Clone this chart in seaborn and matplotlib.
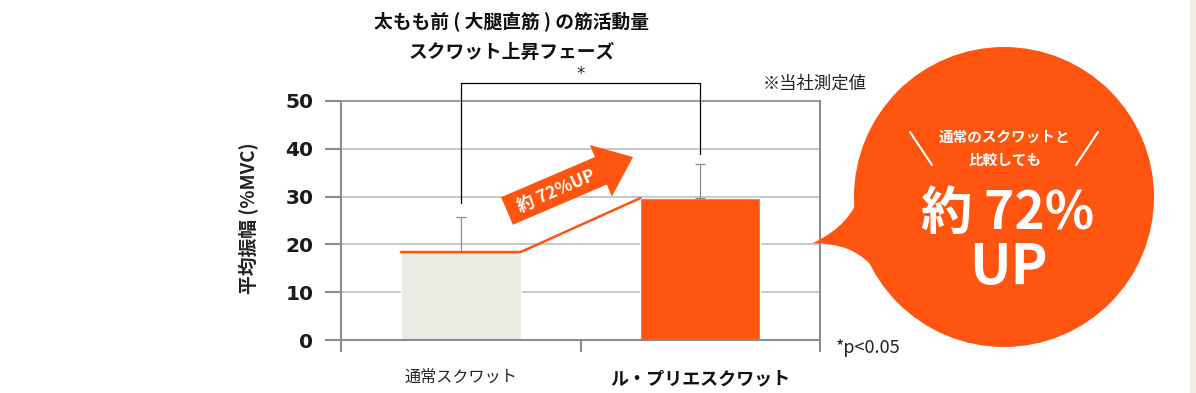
import numpy as np
import pandas as pd
import seaborn as sns
import matplotlib
matplotlib.use('Agg')
import matplotlib.pyplot as plt
from matplotlib.patches import Polygon, Circle, PathPatch, Rectangle
from matplotlib.path import Path
from matplotlib.transforms import Affine2D

# ---------------- data ----------------
categories = ['通常スクワット', 'ル・プリエスクワット']
mean_values = [18.4, 29.7]          # 平均振幅 (%MVC)
sd_values = [7.3, 7.1]              # upper error bar
bracket_legs = [28.7, 39.0]         # bottom of significance bracket legs
bracket_top = 53.8
yticks = [0, 10, 20, 30, 40, 50]
title_lines = ['太もも前 ( 大腿直筋 ) の筋活動量', 'スクワット上昇フェーズ']

ORANGE = '#FF5510'
GRAY_BAR = '#EBEAE3'
AX_GRAY = '#8c8c8c'

W, H = 1196, 393
sns.set_theme(style='white')
plt.rcParams['font.family'] = ['Noto Sans CJK JP', 'DejaVu Sans']

fig = plt.figure(figsize=(W / 100, H / 100), dpi=100)
fig.patch.set_facecolor('white')
ax = fig.add_axes([341 / W, 1 - 340 / H, 479 / W, 239 / H])

df = pd.DataFrame({'cat': categories, 'val': mean_values})
sns.barplot(data=df, x='cat', y='val', hue='cat', palette=[GRAY_BAR, ORANGE],
            width=0.5, saturation=1, errorbar=None, legend=False, ax=ax, zorder=2)

# error bars (upper only)
ax.errorbar([0, 1], mean_values, yerr=[[0, 0], sd_values], fmt='none',
            ecolor='#8a8a8a', elinewidth=0.9, capsize=3.5, capthick=0.9, zorder=3)

ax.set_ylim(0, 50)
ax.set_xlim(-0.5, 1.5)
ax.set_yticks(yticks)
ax.set_xticks([0, 1])
ax.set_xticklabels(categories)
ax.set_xticks([-0.5, 0.5, 1.5], minor=True)
ax.set_xlabel('')
ax.set_ylabel('')

for s in ['left', 'right', 'bottom', 'top']:
    ax.spines[s].set_visible(True)
    ax.spines[s].set_color(AX_GRAY)
    ax.spines[s].set_linewidth(1.5)
ax.spines['top'].set_linewidth(1.2)

ax.yaxis.grid(True, color='#b8b8b8', lw=1.1)
ax.set_axisbelow(True)
ax.tick_params(axis='y', left=True, length=11.5, width=1.5, color=AX_GRAY, pad=8.5)
ax.tick_params(axis='x', which='major', length=0, pad=21)
ax.tick_params(axis='x', which='minor', bottom=True, length=8.6, width=1.5, color=AX_GRAY)

for lab in ax.get_yticklabels():
    lab.set_fontfamily('DejaVu Sans')
    lab.set_fontweight('bold')
    lab.set_fontsize(14.5)
    lab.set_color('#1a1a1a')
xl = ax.get_xticklabels()
xl[0].set_fontsize(11.6)
xl[0].set_color('#222222')
xl[1].set_fontsize(13)
xl[1].set_fontweight('bold')
xl[1].set_color('#111111')

# orange connecting line
ax.plot([-0.25, 0.25, 0.75], [mean_values[0], mean_values[0], mean_values[1]],
        color=ORANGE, lw=1.8, zorder=4, solid_joinstyle='miter')

# significance bracket
ax.plot([0, 0, 1, 1], [bracket_legs[0], bracket_top, bracket_top, bracket_legs[1]],
        color='black', lw=0.9, clip_on=False, zorder=5)
ax.text(0.5, bracket_top + 1.9, '*', ha='center', va='center', fontsize=12,
        family='DejaVu Sans', clip_on=False)

# pixel transform (y down)
pix = Affine2D().scale(1 / 100, -1 / 100).translate(0, H / 100) + fig.dpi_scale_trans

# title
fig.text(512, 22, title_lines[0], transform=pix, ha='center', va='center',
         fontsize=13.5, fontweight='bold', color='#111111')
fig.text(512, 52, title_lines[1], transform=pix, ha='center', va='center',
         fontsize=13.5, fontweight='bold', color='#111111')
fig.text(763, 84, '※当社測定値', transform=pix, ha='left', va='center',
         fontsize=12.5, color='#222222')
fig.text(836, 348, '*p<0.05', transform=pix, ha='left', va='center',
         fontsize=13, color='#222222')
fig.text(249, 218, '平均振幅 (%MVC)', transform=pix, ha='center', va='center',
         rotation=90, fontsize=13.5, fontweight='bold', color='#222222')

# big arrow
T = np.array([507.0, 211.0])
P = np.array([633.0, 157.0])
d = (P - T) / np.linalg.norm(P - T)
n = np.array([-d[1], d[0]])
hw, HW, hl = 15, 28, 35
B = P - d * hl
arrow_pts = [T - n * hw, B - n * hw, B - n * HW, P, B + n * HW, B + n * hw, T + n * hw]
fig.add_artist(Polygon(arrow_pts, closed=True, transform=pix, facecolor=ORANGE,
                       edgecolor='none', zorder=6))
ang = np.degrees(np.arctan2(-d[1], d[0]))
fig.text(556, 191, '約 72%UP', transform=pix, ha='center', va='center',
         rotation=ang, rotation_mode='anchor', fontsize=12.5, fontweight='bold',
         color='white', zorder=7)

# speech bubble
fig.add_artist(Circle((1004, 197), 150, transform=pix, facecolor=ORANGE,
                      edgecolor='none', zorder=6))
tail = Path([(862, 190), (853, 215), (840, 230), (813, 243),
             (835, 245), (862, 243), (890, 290), (862, 190)],
            [Path.MOVETO, Path.CURVE4, Path.CURVE4, Path.CURVE4,
             Path.CURVE4, Path.CURVE4, Path.CURVE4, Path.CLOSEPOLY])
fig.add_artist(PathPatch(tail, transform=pix, facecolor=ORANGE, edgecolor='none', zorder=6))
fig.text(1005, 137, '通常のスクワットと', transform=pix, ha='center', va='center',
         fontsize=10.5, fontweight='bold', color='white', zorder=7)
fig.text(1005, 160, '比較しても', transform=pix, ha='center', va='center',
         fontsize=10.5, fontweight='bold', color='white', zorder=7)
fig.add_artist(plt.Line2D([910, 932], [132, 165], transform=pix, color='white', lw=1.5, zorder=7))
fig.add_artist(plt.Line2D([1098, 1076], [132, 165], transform=pix, color='white', lw=1.5, zorder=7))
fig.text(1008, 213, '約 72%', transform=pix, ha='center', va='center',
         fontsize=37, fontweight='bold', color='white', zorder=7)
fig.text(1008, 268, 'UP', transform=pix, ha='center', va='center',
         fontsize=40, fontweight='bold', color='white', zorder=7)

# right edge strip
fig.add_artist(Rectangle((1190, 0), 6, H, transform=pix, facecolor='#EFEDE6',
                         edgecolor='none', zorder=1))

fig.savefig('out.png', dpi=100, facecolor='white')
